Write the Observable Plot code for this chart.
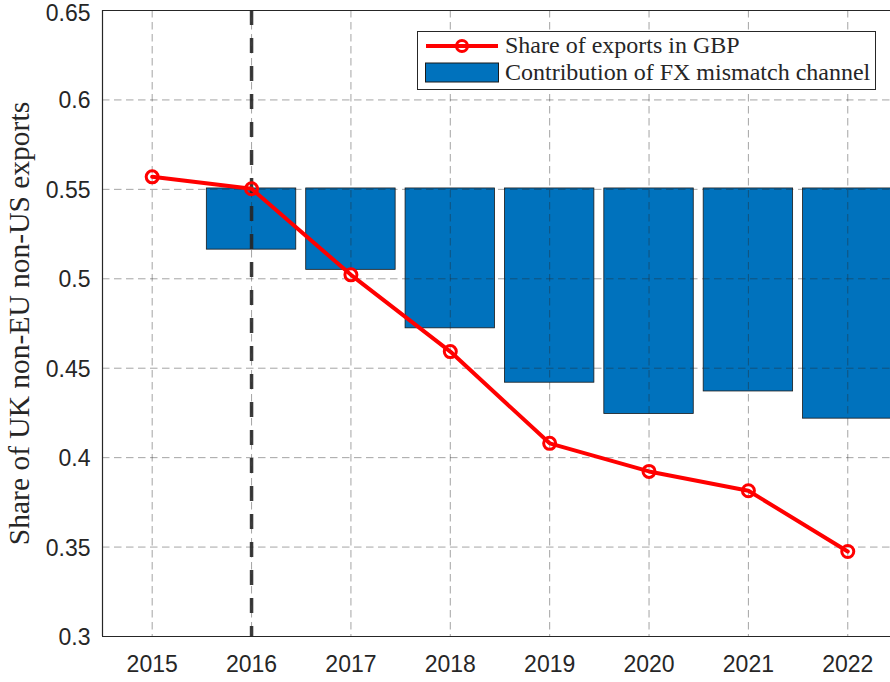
<!DOCTYPE html>
<html>
<head>
<meta charset="utf-8">
<script src="https://cdn.jsdelivr.net/npm/d3@7"></script>
<script src="https://cdn.jsdelivr.net/npm/@observablehq/plot@0.6"></script>
<style>
  html, body { margin: 0; padding: 0; background: #fff; }
  #wrap { position: relative; width: 890px; height: 682px; overflow: hidden; }
  #legend {
    position: absolute; left: 417px; top: 31px; width: 459px; height: 59px;
    border: 1.2px solid #262626; background: #fff; box-sizing: border-box;
    font-family: "Liberation Serif", serif; font-size: 24px; color: #262626;
  }
  .row { position: absolute; left: 0; height: 27px; display: flex; align-items: center; white-space: nowrap; }
  .row svg { margin-left: 7px; margin-right: 6px; }
</style>
</head>
<body>
<div id="wrap">
  <div id="chart"></div>
  <div id="legend">
    <div class="row" style="top:0px"><svg width="74" height="20"><line x1="1" x2="73" y1="10" y2="10" stroke="#ff0000" stroke-width="4"/><circle cx="37" cy="10" r="5.5" fill="none" stroke="#ff0000" stroke-width="3"/></svg><span>Share of exports in GBP</span></div>
    <div class="row" style="top:27px"><svg width="74" height="21"><rect x="0.5" y="1" width="73" height="19" fill="#0072BD" stroke="#1a1a1a" stroke-width="1"/></svg><span>Contribution of FX mismatch channel</span></div>
  </div>
</div>
<script>
const years = [2015, 2016, 2017, 2018, 2019, 2020, 2021, 2022];
const gbpShare = [0.557, 0.5503, 0.5022, 0.4593, 0.408, 0.3923, 0.3815, 0.3475];
const barYears = [2016, 2017, 2018, 2019, 2020, 2021, 2022];
const barBase = 0.5505;
const fxLevel = [0.5163, 0.505, 0.4723, 0.4419, 0.4244, 0.437, 0.4218];
const yTicks = [0.3, 0.35, 0.4, 0.45, 0.5, 0.55, 0.6, 0.65];
const xDomain = [2014.5, 2022.43];
const yDomain = [0.3, 0.65];
const refYear = 2016;
const barHalf = 0.45;

const lineData = years.map((year, i) => ({year, value: gbpShare[i]}));
const barData = barYears.map((year, i) => ({year, value: fxLevel[i]}));

const gridStyle = {stroke: "#262626", strokeOpacity: 0.42, strokeWidth: 1, strokeDasharray: "7.5,4.5"};

const chart = Plot.plot({
  width: 890,
  height: 682,
  marginLeft: 102,
  marginRight: 0,
  marginTop: 10,
  marginBottom: 46,
  style: {fontFamily: "'Liberation Sans', Arial, sans-serif", fontSize: "23px", color: "#262626", background: "#fff"},
  x: {domain: xDomain, ticks: years, tickFormat: d => String(d), tickSize: 0, tickPadding: 19, label: null},
  y: {domain: yDomain, ticks: yTicks, tickFormat: d => String(d), tickSize: 0, tickPadding: 12,
      label: "Share of UK non-EU non-US exports", labelAnchor: "center", labelArrow: "none", labelOffset: 94},
  marks: [
    Plot.rectY(barData, {x1: d => d.year - barHalf, x2: d => d.year + barHalf, y1: barBase, y2: "value",
      fill: "#0072BD", stroke: "#1a1a1a", strokeWidth: 0.8, clip: true}),
    Plot.gridX(years, gridStyle),
    Plot.gridY(yTicks, gridStyle),
    Plot.ruleX([refYear], {stroke: "#262626", strokeWidth: 3.5, strokeOpacity: 0.9, strokeDasharray: "15,13"}),
    Plot.ruleY([yDomain[0], yDomain[1]], {stroke: "#262626", strokeWidth: 1.2}),
    Plot.ruleX([xDomain[0]], {stroke: "#262626", strokeWidth: 1.2}),
    Plot.line(lineData, {x: "year", y: "value", stroke: "#ff0000", strokeWidth: 4}),
    Plot.dot(lineData, {x: "year", y: "value", r: 6, stroke: "#ff0000", strokeWidth: 3, fill: "none"})
  ]
});

// serif font for the y-axis label
d3.select(chart).selectAll("g[aria-label='y-axis label'] text")
  .style("font-family", "'Liberation Serif', serif")
  .style("font-size", "29.5px");
// nudge the y tick labels down a touch, as in the reference (the top one a bit more)
d3.select(chart).selectAll("g[aria-label='y-axis tick label'] text")
  .attr("dy", function() { return this.textContent === "0.65" ? "0.15em" : "0.05em"; });

document.getElementById("chart").appendChild(chart);
</script>
</body>
</html>
